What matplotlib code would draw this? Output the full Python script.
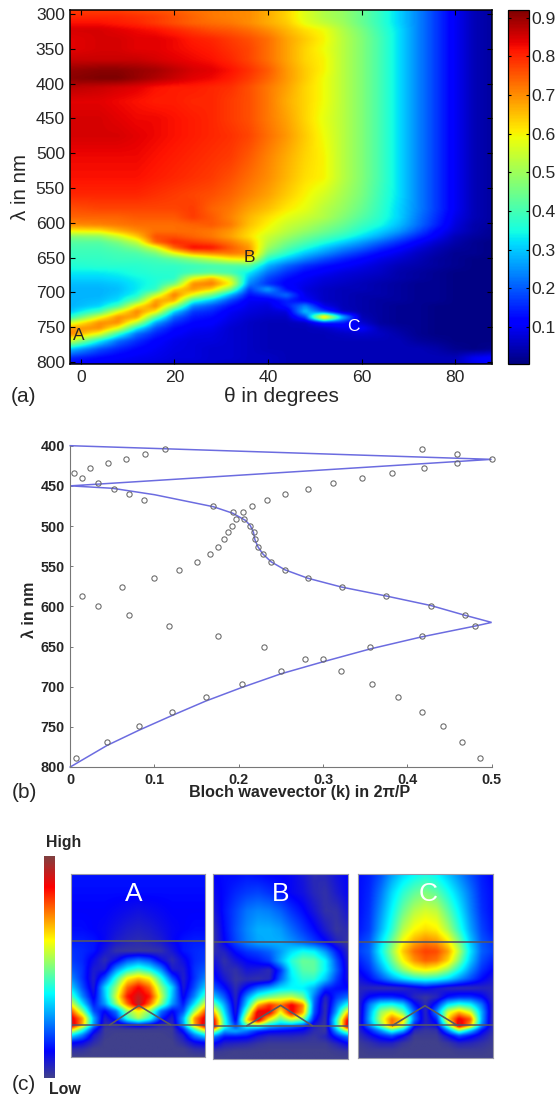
import numpy as np
import matplotlib
matplotlib.use("Agg")
import matplotlib.pyplot as plt
from matplotlib.colors import LinearSegmentedColormap

plt.rcParams['font.family'] = ['Liberation Sans', 'DejaVu Sans']

W, H = 557, 1099
INK = '#262626'

# ---- panel (a): absorption map
theta = [-2, 4, 8, 12, 16, 20, 24, 28, 32, 36, 40, 44, 48, 52, 56, 60, 64, 68, 72, 76, 80, 84, 88]
lam = [295, 303, 312, 322, 335, 350, 365, 380, 392, 405, 425, 450, 475, 505, 535, 560, 580, 592, 603,
       612, 620, 628, 636, 644, 652, 662, 672, 680, 688, 696, 704, 712, 720, 728, 736, 744, 752, 760,
       770, 782, 795, 803]
absorb = [
    [.78, .78, .78, .77, .76, .75, .73, .72, .71, .70, .67, .63, .57, .52, .49, .44, .38, .31, .24, .17, .10, .05, .03],
    [.80, .80, .80, .79, .78, .76, .74, .72, .71, .70, .67, .63, .57, .52, .49, .44, .38, .31, .24, .17, .10, .05, .03],
    [.82, .82, .81, .80, .78, .76, .74, .73, .72, .70, .67, .64, .58, .54, .50, .44, .38, .31, .24, .17, .10, .05, .03],
    [.85, .85, .84, .83, .82, .80, .78, .76, .75, .73, .70, .66, .62, .59, .52, .46, .39, .32, .24, .17, .10, .05, .03],
    [.84, .85, .85, .84, .84, .83, .81, .80, .78, .76, .73, .68, .64, .60, .53, .47, .40, .32, .24, .17, .10, .05, .03],
    [.84, .85, .85, .84, .84, .83, .82, .81, .79, .77, .73, .68, .63, .59, .53, .47, .40, .32, .24, .17, .10, .05, .03],
    [.86, .86, .86, .86, .85, .84, .83, .82, .80, .77, .73, .68, .63, .60, .53, .47, .40, .32, .24, .17, .10, .05, .03],
    [.90, .91, .91, .90, .89, .87, .85, .84, .82, .79, .75, .69, .64, .60, .53, .47, .40, .32, .24, .17, .10, .05, .03],
    [.91, .92, .92, .90, .88, .86, .84, .83, .81, .78, .74, .69, .64, .59, .53, .47, .40, .32, .24, .17, .10, .05, .03],
    [.87, .86, .85, .84, .82, .81, .81, .80, .79, .76, .72, .68, .63, .59, .53, .47, .40, .32, .24, .17, .10, .05, .03],
    [.84, .84, .83, .82, .81, .81, .80, .80, .78, .76, .72, .67, .63, .59, .53, .47, .40, .32, .24, .17, .10, .05, .03],
    [.85, .85, .84, .83, .83, .82, .81, .80, .78, .76, .72, .68, .63, .58, .53, .47, .40, .32, .24, .17, .10, .05, .03],
    [.85, .85, .85, .84, .83, .82, .81, .80, .79, .77, .73, .69, .64, .59, .53, .47, .40, .32, .24, .17, .10, .05, .03],
    [.83, .83, .83, .83, .82, .81, .80, .79, .78, .75, .71, .67, .63, .60, .53, .47, .40, .32, .24, .17, .10, .05, .03],
    [.82, .82, .82, .82, .81, .80, .79, .78, .76, .73, .70, .66, .62, .60, .53, .47, .40, .32, .24, .17, .10, .05, .03],
    [.80, .80, .80, .80, .79, .78, .77, .76, .74, .71, .68, .64, .60, .56, .51, .46, .39, .32, .24, .17, .10, .05, .03],
    [.76, .77, .77, .77, .77, .77, .78, .74, .72, .68, .65, .61, .58, .53, .49, .44, .38, .31, .24, .17, .10, .05, .03],
    [.74, .74, .74, .75, .75, .75, .78, .75, .71, .66, .62, .58, .55, .52, .47, .42, .37, .31, .23, .16, .09, .05, .03],
    [.70, .71, .72, .73, .73, .73, .74, .75, .72, .65, .60, .55, .52, .48, .44, .39, .35, .29, .22, .15, .08, .04, .03],
    [.60, .61, .66, .70, .73, .73, .73, .72, .69, .63, .58, .53, .49, .45, .41, .36, .31, .26, .19, .12, .07, .04, .02],
    [.47, .48, .55, .64, .76, .76, .74, .72, .68, .62, .55, .50, .45, .41, .37, .32, .27, .21, .15, .10, .05, .03, .02],
    [.42, .42, .46, .54, .74, .80, .78, .76, .72, .66, .53, .46, .41, .36, .31, .26, .21, .16, .11, .07, .04, .02, .01],
    [.40, .40, .42, .46, .56, .74, .83, .82, .75, .69, .50, .42, .36, .30, .25, .21, .16, .12, .08, .05, .03, .02, .01],
    [.39, .39, .40, .41, .46, .58, .68, .71, .72, .70, .45, .37, .30, .25, .20, .16, .12, .09, .06, .04, .02, .02, .01],
    [.38, .38, .39, .39, .40, .43, .48, .54, .60, .62, .37, .30, .24, .19, .15, .12, .09, .07, .05, .03, .02, .01, .01],
    [.36, .37, .37, .37, .38, .38, .39, .40, .41, .42, .28, .21, .16, .13, .11, .09, .07, .05, .04, .03, .02, .01, .01],
    [.33, .33, .34, .36, .37, .37, .40, .42, .40, .33, .22, .16, .12, .10, .08, .07, .06, .04, .03, .02, .01, .01, .01],
    [.31, .31, .32, .34, .36, .37, .58, .66, .54, .28, .18, .13, .10, .08, .07, .06, .05, .04, .03, .02, .01, .01, .01],
    [.29, .29, .30, .33, .36, .45, .70, .72, .60, .24, .16, .11, .09, .07, .06, .05, .04, .03, .02, .02, .01, .01, .01],
    [.28, .28, .29, .33, .38, .63, .69, .63, .46, .17, .27, .13, .08, .06, .05, .05, .04, .03, .02, .02, .01, .01, .01],
    [.28, .28, .30, .35, .54, .72, .58, .45, .28, .13, .17, .22, .09, .06, .05, .04, .04, .03, .02, .02, .01, .01, .01],
    [.28, .29, .32, .44, .68, .67, .38, .29, .18, .10, .10, .15, .11, .06, .05, .04, .03, .03, .02, .02, .01, .01, .01],
    [.28, .31, .40, .61, .71, .50, .24, .19, .13, .09, .08, .14, .24, .09, .05, .04, .03, .02, .02, .01, .01, .01, .01],
    [.30, .40, .58, .71, .61, .31, .17, .15, .10, .08, .07, .08, .30, .18, .06, .04, .03, .02, .02, .01, .01, .01, .01],
    [.38, .58, .70, .68, .42, .21, .14, .125, .09, .07, .06, .06, .18, .70, .30, .05, .03, .02, .02, .01, .01, .01, .01],
    [.56, .70, .70, .53, .27, .16, .12, .11, .08, .06, .05, .05, .06, .14, .14, .07, .03, .02, .02, .01, .01, .01, .01],
    [.69, .70, .58, .34, .19, .125, .10, .095, .07, .06, .05, .05, .05, .06, .09, .11, .05, .03, .02, .01, .01, .01, .01],
    [.71, .58, .38, .22, .15, .11, .09, .085, .07, .06, .05, .05, .05, .05, .06, .07, .06, .04, .02, .01, .01, .01, .01],
    [.55, .34, .22, .16, .115, .09, .08, .08, .07, .06, .05, .05, .05, .05, .05, .05, .05, .05, .03, .02, .01, .01, .01],
    [.29, .19, .15, .12, .10, .085, .08, .07, .07, .06, .05, .05, .05, .05, .05, .05, .05, .05, .05, .04, .02, .01, .02],
    [.15, .12, .105, .095, .09, .08, .08, .07, .07, .06, .06, .05, .05, .05, .05, .05, .05, .05, .05, .05, .05, .10, .12],
    [.12, .10, .095, .09, .08, .07, .07, .07, .06, .06, .06, .05, .05, .05, .05, .05, .05, .05, .05, .05, .05, .09, .11],
]

# ---- panel (b): band diagram
circle_k = [.1126, .0885, .0658, .0447, .024, .0046, .0143, .033, .0514, .0696, .0877, .1695, .1927, .197, .192,
            .187, .182, .1754, .1657, .1505, .1294, .0995, .0611, .0139, .0333, .07, .1176, .175, .23, .279, .321,
            .358, .389, .417, .442, .465, .4865,
            .417, .459, .5, .459, .4195, .382, .346, .312, .2816, .255, .233, .2163, .205, .2066, .2137, .2175,
            .219, .2226, .2285, .2386, .255, .282, .322, .3744, .428, .468, .4806, .417, .356, .30, .25, .2036,
            .1606, .1206, .082, .044, .0063]
circle_lam = [404.6, 410, 416, 421.5, 428, 434, 440, 447, 453.5, 460.5, 467.5, 475.5, 483, 491, 499.5,
              508, 516.5, 525.6, 534.7, 544.7, 554.6, 565, 576, 587, 599, 611, 624, 637.5, 651, 666, 681,
              697, 713.4, 731, 749, 768.5, 789,
              404.6, 410, 416, 421.5, 428, 434, 440, 447, 453.5, 460.5, 467.5, 475.5, 483, 491, 499.5, 508,
              516.5, 525.6, 534.7, 544.7, 554.6, 565, 576, 587, 599, 611, 624, 637.5, 651, 666, 681, 697,
              713.4, 731, 749, 768.5, 789]
band_k = [0, .5, 0, .05, .10, .17, .1927, .208, .2137, .2175, .219, .2226, .2285, .2386, .255, .282, .322, .3744,
          .428, .468, .5, .4806, .417, .356, .30, .25, .2036, .1606, .1206, .082, .044, 0]
band_lam = [400, 417, 450, 453, 461, 476, 484, 493, 499.5, 508, 516.5, 525.6, 534.7, 544.7, 554.6, 565, 576, 587,
            599, 611, 620, 624.5, 638, 653, 669, 684, 701, 718, 736, 754, 773, 800]

# ---- panel (c): field maps, columns across and rows down as fractions of each map
field_x = [0, .083, .167, .25, .333, .417, .5, .583, .667, .75, .833, .917, 1]
field_y = [0, .1, .2, .3, .37, .42, .47, .52, .57, .62, .67, .71, .75, .79, .825, .85, .88, .92, .96, 1]
field_a = [
    [.14, .14, .14, .14, .14, .14, .14, .14, .14, .14, .14, .14, .14],
    [.13, .13, .13, .13, .13, .13, .13, .13, .13, .13, .13, .13, .13],
    [.12, .12, .12, .12, .11, .10, .09, .10, .11, .12, .12, .12, .12],
    [.13, .13, .12, .11, .09, .07, .06, .07, .09, .11, .12, .13, .13],
    [.15, .15, .14, .11, .07, .05, .04, .05, .07, .11, .14, .15, .15],
    [.17, .16, .14, .08, .03, .02, .02, .02, .03, .08, .14, .16, .17],
    [.18, .16, .10, .04, .10, .20, .24, .20, .10, .04, .10, .16, .18],
    [.21, .17, .07, .07, .26, .38, .44, .38, .26, .07, .07, .17, .21],
    [.26, .17, .06, .20, .42, .62, .68, .62, .42, .20, .06, .17, .26],
    [.34, .20, .07, .34, .52, .76, .86, .76, .52, .34, .07, .20, .34],
    [.46, .26, .10, .32, .58, .84, .92, .84, .58, .32, .10, .26, .46],
    [.60, .36, .14, .28, .52, .76, .96, .76, .52, .28, .14, .36, .60],
    [.78, .52, .20, .12, .24, .52, .62, .52, .24, .12, .20, .52, .78],
    [.90, .72, .30, .06, .16, .42, .55, .42, .16, .06, .30, .72, .90],
    [.94, .70, .28, .04, .05, .12, .16, .12, .05, .04, .28, .70, .94],
    [.68, .44, .16, .01, .01, .01, .01, .01, .01, .01, .16, .44, .68],
    [.38, .26, .08, .01, 0, 0, 0, 0, 0, .01, .08, .26, .38],
    [.14, .11, .04, 0, 0, 0, 0, 0, 0, 0, .04, .11, .14],
    [.04, .03, 0, 0, 0, 0, 0, 0, 0, 0, 0, .03, .04],
    [0, 0, 0, 0, 0, 0, 0, 0, 0, 0, 0, 0, 0],
]
field_b = [
    [.12, .13, .13, .14, .13, .12, .12, .11, .08, .04, .05, .09, .12],
    [.10, .13, .16, .18, .19, .17, .14, .11, .09, .05, .03, .07, .11],
    [.07, .14, .19, .24, .26, .25, .22, .17, .13, .08, .03, .03, .08],
    [.03, .13, .20, .26, .30, .30, .28, .23, .18, .13, .07, .02, .04],
    [.02, .12, .19, .25, .29, .30, .30, .27, .23, .18, .13, .06, .02],
    [.04, .06, .13, .17, .19, .22, .28, .35, .40, .38, .28, .15, .05],
    [.09, .03, .08, .12, .14, .18, .30, .42, .48, .47, .38, .20, .07],
    [.12, .05, .03, .08, .07, .04, .17, .38, .46, .47, .38, .22, .08],
    [.15, .08, .02, .04, .03, .05, .22, .36, .42, .42, .32, .18, .09],
    [.22, .14, .04, .14, .24, .30, .36, .38, .37, .30, .16, .13, .13],
    [.35, .22, .05, .28, .46, .52, .56, .58, .50, .24, .05, .18, .24],
    [.52, .30, .06, .36, .70, .82, .75, .88, .74, .22, .03, .24, .42],
    [.72, .36, .07, .50, .90, .88, .60, .88, .70, .20, .03, .30, .68],
    [.88, .42, .10, .66, .92, .60, .45, .55, .48, .14, .02, .42, .88],
    [.92, .42, .20, .40, .42, .30, .25, .22, .16, .06, .02, .40, .92],
    [.55, .28, .30, .24, .16, .13, .12, .11, .10, .04, .02, .28, .52],
    [.25, .14, .14, .13, .08, .05, .05, .05, .04, .02, .05, .15, .24],
    [.12, .06, .05, .04, .02, .01, .01, .01, .01, .01, .01, .05, .11],
    [.02, .01, 0, 0, 0, 0, 0, 0, 0, 0, 0, .01, .02],
    [0, 0, 0, 0, 0, 0, 0, 0, 0, 0, 0, 0, 0],
]
field_c = [
    [.13, .15, .20, .28, .34, .38, .40, .38, .32, .26, .20, .15, .12],
    [.13, .16, .24, .34, .42, .47, .50, .47, .40, .32, .24, .16, .13],
    [.13, .17, .27, .38, .48, .55, .58, .56, .47, .37, .26, .17, .13],
    [.14, .18, .30, .42, .55, .62, .65, .63, .54, .42, .29, .19, .14],
    [.17, .21, .35, .48, .62, .70, .74, .72, .64, .50, .33, .21, .17],
    [.18, .22, .38, .52, .67, .76, .80, .79, .71, .55, .36, .22, .18],
    [.15, .20, .34, .48, .62, .72, .77, .75, .66, .50, .33, .20, .15],
    [.12, .17, .28, .41, .52, .60, .63, .60, .52, .40, .27, .17, .12],
    [.08, .13, .20, .28, .35, .40, .42, .40, .35, .27, .20, .13, .08],
    [.05, .05, .04, .04, .05, .08, .11, .08, .05, .04, .04, .05, .05],
    [.05, .13, .16, .16, .13, .05, .02, .05, .14, .17, .17, .13, .05],
    [.04, .24, .38, .40, .34, .14, .04, .16, .36, .42, .38, .24, .05],
    [.03, .28, .52, .60, .48, .22, .05, .26, .58, .68, .58, .30, .04],
    [.03, .30, .56, .76, .66, .24, .05, .16, .66, .88, .78, .30, .03],
    [.05, .25, .48, .76, .58, .14, .06, .10, .48, .93, .70, .26, .04],
    [.05, .15, .28, .44, .32, .05, .02, .03, .26, .52, .34, .14, .04],
    [.03, .09, .15, .20, .11, .01, .01, .01, .10, .20, .14, .08, .02],
    [.01, .03, .06, .06, .02, 0, 0, 0, .02, .06, .05, .03, .01],
    [0, .01, .01, .01, 0, 0, 0, 0, 0, .01, .01, .01, 0],
    [0, 0, 0, 0, 0, 0, 0, 0, 0, 0, 0, 0, 0],
]
# apex height and base ends of the ridge, layer line, base line for each map
ridge_x = [[.29, .505, .74], [.255, .505, .74], [.26, .50, .74]]
ridge_y = [[.825, .72, .825], [.82, .71, .82], [.823, .716, .823]]
layer_y = [.367, .37, .367]
base_y = [.825, .82, .823]

field_cmap = LinearSegmentedColormap.from_list('field', [
    (0, '#40408c'), (.12, '#0000ff'), (.38, '#00ffff'), (.62, '#ffff00'),
    (.86, '#ff0000'), (1, '#804040')])


def px_axes(fig, left, top, right, bottom):
    return fig.add_axes([left / W, 1 - bottom / H, (right - left) / W, (bottom - top) / H])


def px_text(fig, x, y, s, **kw):
    kw.setdefault('color', INK)
    kw.setdefault('ha', 'center')
    kw.setdefault('va', 'center')
    fig.text(x / W, 1 - y / H, s, **kw)


def soften(img, n):
    # small box blur so the read-off grid does not show its cells
    box = np.ones(n) / n
    out = np.pad(img, n, mode='edge')
    out = np.apply_along_axis(lambda r: np.convolve(r, box, mode='same'), 0, out)
    out = np.apply_along_axis(lambda r: np.convolve(r, box, mode='same'), 1, out)
    return out[n:-n, n:-n]


def fine_grid(grid, xs, ys, xf, yf, n):
    grid = np.array(grid, dtype=float)
    tmp = np.array([np.interp(xf, xs, row) for row in grid])
    img = np.array([np.interp(yf, ys, col) for col in tmp.T]).T
    return soften(img, n)


fig = plt.figure(figsize=(W / 100, H / 100), dpi=100)

# (a)
ax = px_axes(fig, 70.4, 10, 491.7, 364)
xf = np.linspace(-2.2, 87.8, 500)
yf = np.linspace(294, 803, 500)
im = ax.imshow(fine_grid(absorb, theta, lam, xf, yf, 5), extent=(-2.2, 87.8, 803, 294), aspect='auto',
               cmap='jet', vmin=.004, vmax=.92, interpolation='bilinear')
ax.set_xticks([0, 20, 40, 60, 80])
ax.set_yticks(range(300, 801, 50))
ax.tick_params(direction='in', top=True, right=True, length=3.5, width=.8, labelsize=12.6,
               labelcolor=INK, pad=4)
for s in ax.spines.values():
    s.set_linewidth(1.1)
ax.text(-0.4, 761.5, 'A', color=INK, fontsize=12.5, ha='center', va='center')
ax.text(36, 650, 'B', color=INK, fontsize=12.5, ha='center', va='center')
ax.text(58.2, 748.5, 'C', color='white', fontsize=12.5, ha='center', va='center')

cax = px_axes(fig, 507.5, 10, 528.9, 364)
cb = fig.colorbar(im, cax=cax, ticks=[.1, .2, .3, .4, .5, .6, .7, .8, .9])
cb.ax.set_yticklabels(['0.1', '0.2', '0.3', '0.4', '0.5', '0.6', '0.7', '0.8', '0.9'])
cb.ax.tick_params(direction='in', length=2.5, width=.8, labelsize=12.6, labelcolor=INK, pad=2, left=True)
cb.outline.set_linewidth(.9)

px_text(fig, 281, 397, 'θ in degrees', fontsize=15)
px_text(fig, 21, 187, 'λ in nm', fontsize=14.8, rotation=90)
px_text(fig, 24, 397, '(a)', fontsize=15)

# (b)
ax = px_axes(fig, 70.2, 445.7, 491.6, 767)
ax.plot(band_k, band_lam, color='#6c6ce0', lw=1.1, solid_joinstyle='miter', clip_on=False)
ax.plot(circle_k, circle_lam, linestyle='none', marker='o', ms=3.8, mfc='none', mec='#666666', mew=.75, clip_on=False)
ax.set_xlim(0, .5)
ax.set_ylim(800, 400)
ax.set_xticks([0, .1, .2, .3, .4, .5])
ax.set_xticklabels(['0', '0.1', '0.2', '0.3', '0.4', '0.5'])
ax.set_yticks(range(400, 801, 50))
ax.tick_params(direction='in', length=2.5, width=.7, color='#777777', labelsize=10.4, labelcolor=INK, pad=4)
for lab in ax.get_xticklabels() + ax.get_yticklabels():
    lab.set_fontweight('bold')
ax.spines['top'].set_visible(False)
ax.spines['right'].set_visible(False)
ax.spines['left'].set_color('#777777')
ax.spines['bottom'].set_color('#777777')
px_text(fig, 299.6, 793, 'Bloch wavevector (k) in 2π/P', fontsize=11.6, fontweight='bold')
px_text(fig, 30, 610, 'λ in nm', fontsize=11.5, rotation=90, fontweight='bold')
px_text(fig, 24, 792, '(b)', fontsize=15)

# (c)
cax = px_axes(fig, 44.4, 856, 55.4, 1078)
cax.imshow(np.linspace(1, 0, 256).reshape(-1, 1), aspect='auto', cmap=field_cmap, vmin=0, vmax=1)
cax.axis('off')
px_text(fig, 64, 842, 'High', fontsize=11.4, fontweight='bold')
px_text(fig, 64.5, 1089, 'Low', fontsize=11.4, fontweight='bold')
px_text(fig, 23.5, 1084, '(c)', fontsize=15)

boxes = [(71, 205.4, 1056.7), (212.5, 347.5, 1059), (357.5, 492.5, 1058)]
fields = [field_a, field_b, field_c]
names = ['A', 'B', 'C']
name_x = [.47, .505, .526]
fx = np.linspace(0, 1, 260)
fy = np.linspace(0, 1, 360)
for i in range(3):
    left, right, bottom = boxes[i]
    ax = px_axes(fig, left, 874, right, bottom)
    ax.imshow(fine_grid(fields[i], field_x, field_y, fx, fy, 5), extent=(0, 1, 1, 0), aspect='auto',
              cmap=field_cmap, vmin=0, vmax=1, interpolation='bilinear')
    ax.plot([0, 1], [layer_y[i], layer_y[i]], color='#555566', lw=1.2)
    ax.plot([0, 1], [base_y[i], base_y[i]], color='#555566', lw=1.1)
    ax.plot(ridge_x[i], ridge_y[i], color='#5a5a60', lw=1.2)
    ax.set_xlim(0, 1)
    ax.set_ylim(1, 0)
    ax.set_xticks([])
    ax.set_yticks([])
    for s in ax.spines.values():
        s.set_color('#9a9aa8')
        s.set_linewidth(.8)
    ax.text(name_x[i], .11, names[i], color='white', fontsize=19, ha='center', va='center')

fig.savefig('out.png', dpi=100)
